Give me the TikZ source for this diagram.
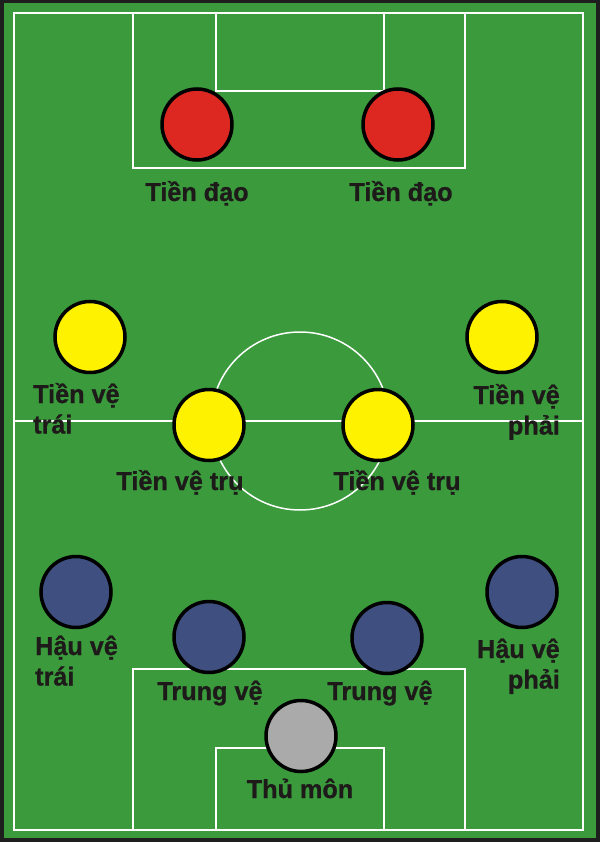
\documentclass[tikz,border=0pt]{standalone}
\usepackage{fontspec}
\setmainfont{Liberation Sans}
\newfontfamily\rolefont[FakeStretch=0.97, FakeBold=0.8]{Liberation Sans Bold}
\usetikzlibrary{shapes.geometric}
\definecolor{frame}{RGB}{30,30,30}
\definecolor{pitch}{RGB}{58,154,60}
\definecolor{fwd}{RGB}{221,40,34}
\definecolor{mid}{RGB}{255,242,0}
\definecolor{back}{RGB}{63,79,128}
\definecolor{keeper}{RGB}{170,170,170}
\definecolor{ink}{RGB}{30,26,26}
\begin{document}
\begin{tikzpicture}[x=1pt,y=-1pt]
	\tikzstyle{every node}+=[inner sep=0pt]
	\tikzstyle{player}=[ellipse, draw=black, line width=3.5pt, minimum width=70pt, minimum height=71pt]
	\tikzstyle{role}=[font=\rolefont\fontsize{26}{30.5}\selectfont, text=ink]
	\tikzstyle{chalk}=[white, line width=2pt]
	% pitch
	\fill [frame] (0,0) rectangle (600,842);
	\fill [pitch] (4,3) rectangle (596,838);
	\draw [chalk] (14,13) rectangle (583,830);
	\draw [chalk] (133,13) rectangle (465,168);
	\draw [chalk] (216,13) rectangle (384,91);
	\draw [chalk] (133,830) rectangle (465,669);
	\draw [chalk] (216,830) rectangle (384,748);
	\draw [chalk] (14,421) -- (583,421);
	\draw [white, line width=1.5pt] (300,421) circle (89);
	% forwards
	\node [player, fill=fwd] (fl) at (197,124.5) {};
	\node [player, fill=fwd] (fr) at (398,124.5) {};
	\node [role, anchor=base] (fltext) at (197,201) {Tiền đạo};
	\node [role, anchor=base] (frtext) at (401,201) {Tiền đạo};
	% midfield
	\node [player, fill=mid] (ml) at (90,337) {};
	\node [player, fill=mid] (mr) at (502,337) {};
	\node [player, fill=mid] (mcl) at (209,425) {};
	\node [player, fill=mid] (mcr) at (378,425) {};
	\node [role, anchor=base west, align=left] (mltext) at (33,433.5) {Tiền vệ\\trái};
	\node [role, anchor=base east, align=right] (mrtext) at (560,434.5) {Tiền vệ\\phải};
	\node [role, anchor=base] (mcltext) at (180,490) {Tiền vệ trụ};
	\node [role, anchor=base] (mcrtext) at (397,490) {Tiền vệ trụ};
	% defence
	\node [player, fill=back] (dl) at (76,592) {};
	\node [player, fill=back] (dr) at (522,592) {};
	\node [player, fill=back] (dcl) at (209,637) {};
	\node [player, fill=back] (dcr) at (387,638) {};
	\node [role, anchor=base west, align=left] (dltext) at (35,685.5) {Hậu vệ\\trái};
	\node [role, anchor=base east, align=right] (drtext) at (560,688.5) {Hậu vệ\\phải};
	\node [role, anchor=base] (dcltext) at (210,700) {Trung vệ};
	\node [role, anchor=base] (dcrtext) at (380,700) {Trung vệ};
	% goalkeeper
	\node [player, fill=keeper] (gk) at (301,736) {};
	\node [role, anchor=base] (gktext) at (300,798) {Thủ môn};
\end{tikzpicture}
\end{document}
